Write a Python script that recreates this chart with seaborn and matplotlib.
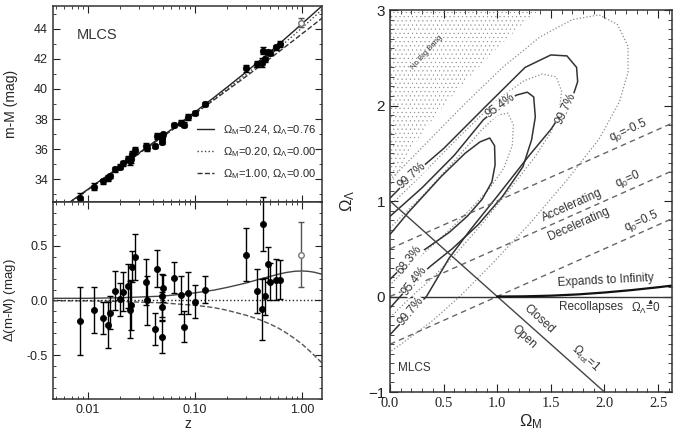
import matplotlib
matplotlib.use("Agg")
import matplotlib.pyplot as plt
import matplotlib.ticker as mticker
import seaborn as sns
import numpy as np
import pandas as pd

# ---- Hubble diagram data ----
sn_z = [0.0084, 0.0114, 0.0137, 0.0155, 0.0159, 0.0177, 0.0199, 0.0214, 0.0235, 0.0244,
        0.0254, 0.0258, 0.0272, 0.0346, 0.0352, 0.042, 0.0442, 0.0485, 0.049, 0.049,
        0.0502, 0.0637, 0.0735, 0.0789, 0.0861, 0.0994, 0.1233, 0.296, 0.380, 0.423,
        0.427, 0.445, 0.478, 0.499, 0.568, 0.619]
sn_mu = [32.76, 33.52, 33.86, 34.07, 34.23, 34.67, 34.84, 35.07, 35.33, 35.20,
         35.33, 35.71, 35.92, 36.22, 36.09, 36.22, 36.88, 36.84, 36.76, 36.49,
         36.98, 37.61, 37.77, 37.64, 38.15, 38.39, 38.99, 41.36, 41.63, 41.74,
         42.54, 41.98, 42.45, 42.40, 42.75, 42.97]
sn_dmu = [-0.19, -0.09, -0.16, -0.22, -0.11, 0.09, 0.01, 0.08, 0.13, -0.085,
          -0.04, 0.31, 0.40, 0.17, 0.00, -0.26, 0.29, 0.045, -0.055, -0.33,
          0.11, 0.21, 0.05, -0.24, 0.07, -0.01, 0.10, 0.42, 0.085, -0.08,
          0.70, 0.04, 0.33, 0.17, 0.19, 0.19]
sn_err = [0.31, 0.21, 0.145, 0.21, 0.15, 0.18, 0.15, 0.18, 0.20, 0.26,
          0.23, 0.14, 0.21, 0.21, 0.22, 0.15, 0.17, 0.20, 0.13, 0.15,
          0.12, 0.14, 0.17, 0.14, 0.19, 0.15, 0.12, 0.24, 0.20, 0.28,
          0.25, 0.17, 0.16, 0.17, 0.19, 0.18]
ck_z, ck_mu, ck_dmu, ck_err = 0.97, 44.40, 0.42, 0.30   # open symbol

# model curves
model_z = [0.004, 0.01, 0.02, 0.05, 0.1, 0.15, 0.2, 0.3, 0.4, 0.5, 0.6, 0.7,
           0.85, 1.0, 1.15, 1.3, 1.6]
mu_open = [31.33, 33.33, 34.84, 36.86, 38.41, 39.34, 40.01, 40.97, 41.68, 42.24,
           42.70, 43.11, 43.62, 44.07, 44.45, 44.80, 45.39]
dmu_lambda = [0.02, 0.02, 0.025, 0.04, 0.07, 0.095, 0.12, 0.16, 0.195, 0.22, 0.24,
              0.255, 0.267, 0.27, 0.266, 0.258, 0.235]
dmu_eds = [-0.002, -0.004, -0.009, -0.022, -0.044, -0.065, -0.09, -0.135, -0.175,
           -0.215, -0.253, -0.292, -0.348, -0.40, -0.453, -0.503, -0.59]
model_labels = [r'$\Omega_M$=0.24, $\Omega_\Lambda$=0.76',
                r'$\Omega_M$=0.20, $\Omega_\Lambda$=0.00',
                r'$\Omega_M$=1.00, $\Omega_\Lambda$=0.00']

# ---- Omega_M / Omega_Lambda plane ----
q0_values = [-0.5, 0.0, 0.5]
nbb_om = [0.0, 0.1, 0.2, 0.3, 0.5, 0.75, 1.0, 1.25, 1.45]
nbb_ol = [1.15, 1.35, 1.55, 1.71, 2.0, 2.31, 2.6, 2.87, 3.05]
exp_om = [1.0, 1.25, 1.5, 1.75, 2.0, 2.25, 2.5, 2.65]
exp_ol = [0.0, 0.002, 0.009, 0.022, 0.042, 0.067, 0.097, 0.117]

s1_om = [0.0, 0.17, 0.48, 0.70, 0.84, 0.93, 0.975, 0.98, 0.95, 0.86, 0.72, 0.55, 0.36, 0.18, 0.0]
s1_ol = [0.65, 0.88, 1.26, 1.50, 1.62, 1.66, 1.58, 1.38, 1.20, 1.02, 0.84, 0.67, 0.52, 0.38, 0.18]
s2_om = [0.0, 0.3, 0.6, 0.87, 1.03, 1.18, 1.28, 1.34, 1.355, 1.32, 1.24, 1.05, 0.82, 0.58, 0.38, 0.23, 0.0]
s2_ol = [0.84, 1.14, 1.48, 1.85, 2.00, 2.11, 2.14, 2.09, 1.88, 1.64, 1.36, 1.05, 0.75, 0.50, 0.32, 0.17, -0.12]
s3_om = [0.0, 0.2, 0.5, 0.9, 1.26, 1.5, 1.65, 1.74, 1.75, 1.70, 1.62, 1.5, 1.3, 1.0, 0.75, 0.55, 0.34, 0.19, 0.0]
s3_ol = [1.03, 1.26, 1.55, 2.0, 2.40, 2.53, 2.52, 2.40, 2.25, 2.08, 1.95, 1.75, 1.48, 1.05, 0.70, 0.40, 0.0, -0.17, -0.40]
d1_om = [0.0, 0.3, 0.6, 0.85, 1.0, 1.1, 1.15, 1.14, 1.06, 0.92, 0.72, 0.50, 0.30, 0.12, 0.0]
d1_ol = [0.72, 1.05, 1.42, 1.74, 1.90, 1.92, 1.80, 1.58, 1.34, 1.12, 0.88, 0.64, 0.44, 0.26, 0.12]
d2_om = [0.0, 0.3, 0.65, 1.0, 1.25, 1.42, 1.55, 1.60, 1.58, 1.50, 1.35, 1.10, 0.85, 0.60, 0.40, 0.20, 0.0]
d2_ol = [0.95, 1.28, 1.68, 2.06, 2.26, 2.33, 2.30, 2.15, 1.95, 1.72, 1.46, 1.10, 0.75, 0.43, 0.20, 0.0, -0.22]
d3_om = [0.0, 0.35, 0.7, 1.05, 1.4, 1.7, 1.95, 2.12, 2.22, 2.22, 2.14, 1.95, 1.65, 1.30, 0.95, 0.65, 0.40, 0.20, 0.0]
d3_ol = [1.22, 1.62, 2.02, 2.40, 2.72, 2.90, 2.95, 2.85, 2.62, 2.35, 2.04, 1.65, 1.22, 0.76, 0.34, 0.0, -0.25, -0.42, -0.58]

sns.set_style("ticks")
plt.rcParams['font.family'] = ['Liberation Sans', 'DejaVu Sans']
plt.rcParams['mathtext.fontset'] = 'custom'
plt.rcParams['mathtext.rm'] = 'Liberation Sans'
plt.rcParams['mathtext.it'] = 'Liberation Sans'
plt.rcParams['hatch.linewidth'] = 0.3

fig = plt.figure(figsize=(6.75, 4.36), dpi=100)
ax1 = fig.add_axes([0.0785, 0.5367, 0.3985, 0.4495])
ax2 = fig.add_axes([0.0785, 0.0849, 0.3985, 0.4518])
ax3 = fig.add_axes([0.5778, 0.1009, 0.4178, 0.876])

df = pd.DataFrame({'z': sn_z, 'mu': sn_mu, 'dmu': sn_dmu, 'err': sn_err})
mdf = pd.DataFrame({'z': model_z, 'open': mu_open, 'dl': dmu_lambda, 'de': dmu_eds})
mdf['lam'] = mdf['open'] + mdf['dl']
mdf['eds'] = mdf['open'] + mdf['de']

# ---- top: Hubble diagram ----
sns.lineplot(data=mdf, x='z', y='lam', ax=ax1, color='#222222', lw=1.0, label=model_labels[0])
sns.lineplot(data=mdf, x='z', y='open', ax=ax1, color='#444444', lw=1.0, ls=':', label=model_labels[1])
sns.lineplot(data=mdf, x='z', y='eds', ax=ax1, color='#333333', lw=1.0, ls='--', label=model_labels[2])
ax1.errorbar(df['z'], df['mu'], yerr=df['err'], fmt='none', ecolor='black', elinewidth=1, capsize=2)
sns.scatterplot(data=df, x='z', y='mu', ax=ax1, color='black', s=22, edgecolor='black', linewidth=0.5, zorder=5)
ax1.errorbar([ck_z], [ck_mu], yerr=[ck_err], fmt='o', mfc='white', mec='#777777', ms=4,
             ecolor='#555555', elinewidth=1, capsize=2)
ax1.set_xscale('log')
ax1.set_xlim(0.0047, 1.53)
ax1.set_ylim(32.5, 45.5)
ax1.yaxis.set_major_locator(mticker.MultipleLocator(2))
ax1.yaxis.set_minor_locator(mticker.MultipleLocator(1))
ax1.set_xlabel('')
ax1.set_xticklabels([])
ax1.xaxis.set_minor_formatter(mticker.NullFormatter())
ax1.set_ylabel('m-M (mag)', fontsize=10)
ax1.text(0.09, 0.83, 'MLCS', transform=ax1.transAxes, fontsize=10.5, color='#333333')
leg = ax1.legend(loc='lower right', frameon=False, fontsize=8, handlelength=1.6,
                 labelspacing=0.75, borderaxespad=0.1, bbox_to_anchor=(1.0, 0.08))

# ---- bottom: residuals ----
sns.lineplot(data=mdf, x='z', y='dl', ax=ax2, color='#444444', lw=1.0)
sns.lineplot(data=mdf, x='z', y='de', ax=ax2, color='#555555', lw=1.0, ls='--')
ax2.axhline(0, color='#222222', lw=1.0, ls=':')
ax2.errorbar(df['z'], df['dmu'], yerr=df['err'], fmt='none', ecolor='black', elinewidth=1,
             capsize=2.2, clip_on=False)
ax2.errorbar([sn_z[0]], [sn_dmu[0]], xerr=[[0.0006], [0.0006]], fmt='none', ecolor='black', elinewidth=1)
sns.scatterplot(data=df, x='z', y='dmu', ax=ax2, color='black', s=20, edgecolor='black', linewidth=0.5, zorder=5)
ax2.errorbar([ck_z], [ck_dmu], yerr=[ck_err], fmt='o', mfc='white', mec='#777777', ms=4,
             ecolor='#555555', elinewidth=1, capsize=2.2)
ax2.set_xscale('log')
ax2.set_xlim(0.0047, 1.53)
ax2.set_ylim(-0.9, 0.9)
ax2.yaxis.set_major_locator(mticker.MultipleLocator(0.5))
ax2.yaxis.set_minor_locator(mticker.MultipleLocator(0.1))
ax2.yaxis.set_major_formatter(mticker.FormatStrFormatter('%.1f'))
ax2.set_xticks([0.01, 0.1, 1.0])
ax2.set_xticklabels(['0.01', '0.10', '1.00'])
ax2.xaxis.set_minor_formatter(mticker.NullFormatter())
ax2.set_xlabel('z', fontsize=10, labelpad=1)
ax2.set_ylabel(r'$\Delta$(m-M) (mag)', fontsize=9.5)

for ax in (ax1, ax2):
    ax.tick_params(which='both', direction='in', top=True, right=True, labelsize=9, colors='#222222')
    ax.tick_params(which='major', length=5)
    ax.tick_params(which='minor', length=2.5)
    ax.yaxis.set_label_coords(-0.13, 0.5)
    for sp in ax.spines.values():
        sp.set_linewidth(1.1)
        sp.set_color('#333333')

# ---- right: Omega_M vs Omega_Lambda ----
ax3.fill_between(nbb_om, nbb_ol, 3.3, facecolor='none', edgecolor='#888888', hatch='....', lw=0)
for om, ol in ((d1_om, d1_ol), (d2_om, d2_ol), (d3_om, d3_ol)):
    ax3.plot(om, ol, color='#8a8a8a', lw=0.9, ls=':')
for om, ol in ((s1_om, s1_ol), (s2_om, s2_ol), (s3_om, s3_ol)):
    ax3.plot(om, ol, color='#333333', lw=1.1)
for q0 in q0_values:
    ax3.axline((0, -q0), slope=0.5, color='#666666', lw=1.0, ls=(0, (4, 3)))
ax3.axline((0, 1), slope=-1, color='#444444', lw=1.0)
ax3.axhline(0, color='#333333', lw=1.0)
ax3.plot(exp_om, exp_ol, color='#111111', lw=1.6)

lab_kw = dict(fontsize=8.5, color='#333333', ha='center', va='center',
              bbox=dict(facecolor='white', edgecolor='none', pad=0.3))
ax3.text(0.20, 1.27, '99.7%', rotation=42, **lab_kw)
ax3.text(1.03, 2.00, '95.4%', rotation=36, **lab_kw)
ax3.text(1.64, 1.97, '99.7%', rotation=65, **lab_kw)
ax3.text(0.18, 0.38, '68.3%', rotation=52, **lab_kw)
ax3.text(0.23, 0.16, '95.4%', rotation=52, **lab_kw)
ax3.text(0.19, -0.15, '99.7%', rotation=50, **lab_kw)

txt_kw = dict(fontsize=8.5, color='#333333', ha='center', va='center')
ax3.text(0.34, 2.55, 'No Big Bang', rotation=48, fontsize=5.5, color='#333333', ha='center', va='center')
ax3.text(2.22, 1.74, r'q$_0$=-0.5', rotation=24, **txt_kw)
ax3.text(2.22, 1.23, r'q$_0$=0', rotation=24, **txt_kw)
ax3.text(2.34, 0.79, r'q$_0$=0.5', rotation=24, **txt_kw)
ax3.text(1.70, 0.95, 'Accelerating', rotation=24, **txt_kw)
ax3.text(1.76, 0.76, 'Decelerating', rotation=24, **txt_kw)
ax3.text(2.01, 0.17, 'Expands to Infinity', rotation=3, **txt_kw)
ax3.text(1.87, -0.105, 'Recollapses', **txt_kw)
ax3.text(2.39, -0.13, r'$\Omega_\Lambda$=0', **txt_kw)
ax3.annotate('', xy=(2.43, 0.0), xytext=(2.43, -0.1),
             arrowprops=dict(arrowstyle='-|>', color='#333333', lw=0.8, mutation_scale=5))
ax3.text(1.39, -0.24, 'Closed', rotation=-42, **txt_kw)
ax3.text(1.25, -0.42, 'Open', rotation=-42, **txt_kw)
ax3.text(1.82, -0.65, r'$\Omega_{tot}$=1', rotation=-42, **txt_kw)
ax3.text(0.23, -0.75, 'MLCS', **txt_kw)

ax3.set_xlim(0, 2.63)
ax3.set_ylim(-1, 3)
ax3.xaxis.set_major_locator(mticker.MultipleLocator(0.5))
ax3.xaxis.set_minor_locator(mticker.MultipleLocator(0.1))
ax3.xaxis.set_major_formatter(mticker.FormatStrFormatter('%.1f'))
ax3.yaxis.set_major_locator(mticker.MultipleLocator(1))
ax3.yaxis.set_minor_locator(mticker.MultipleLocator(0.1))
ax3.tick_params(which='both', direction='in', top=True, right=True, colors='#222222')
ax3.tick_params(which='major', length=6)
ax3.tick_params(which='minor', length=3)
ax3.tick_params(axis='y', labelsize=11)
for lbl in ax3.get_xticklabels():
    lbl.set_fontfamily('Liberation Serif')
    lbl.set_fontsize(10.5)
for sp in ax3.spines.values():
    sp.set_linewidth(1.1)
    sp.set_color('#333333')
ax3.set_xlabel(r'$\Omega_{\rm M}$', fontsize=12, family='Liberation Serif', labelpad=2)
ax3.set_ylabel(r'$\Omega_\Lambda$', fontsize=12, family='Liberation Serif', labelpad=8)

fig.savefig('out.png', dpi=100, facecolor='white')
